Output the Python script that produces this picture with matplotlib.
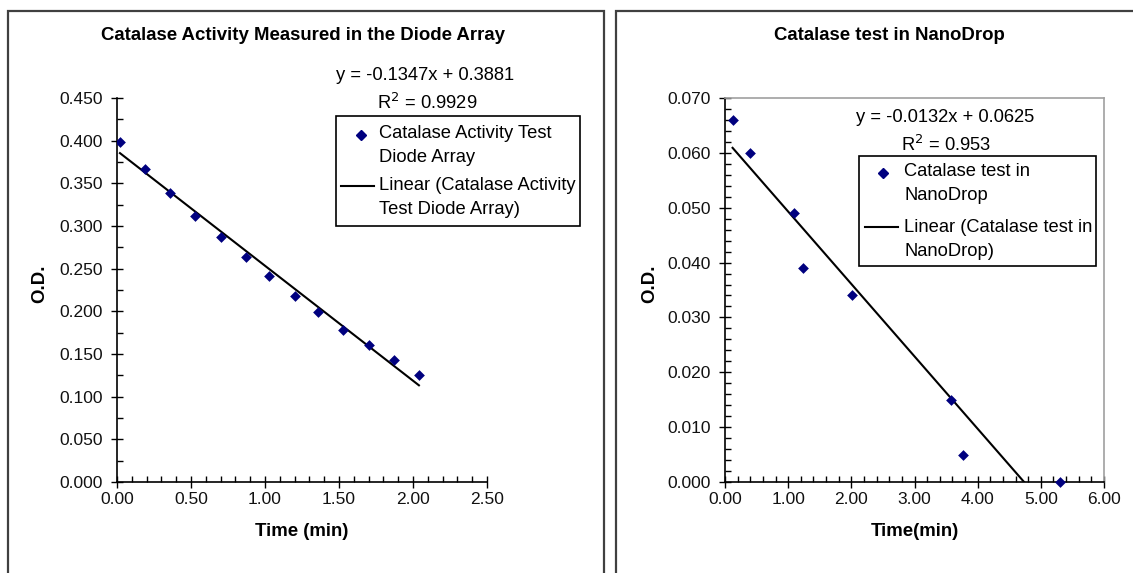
import matplotlib
matplotlib.use("Agg")
import matplotlib.pyplot as plt
from matplotlib.patches import Rectangle
from matplotlib.lines import Line2D
import numpy as np

# ---- data ----
da_time = [0.02, 0.19, 0.36, 0.53, 0.70, 0.87, 1.03, 1.20, 1.36, 1.53, 1.70, 1.87, 2.04]
da_od = [0.399, 0.367, 0.339, 0.312, 0.287, 0.264, 0.241, 0.218, 0.199, 0.178, 0.161, 0.143, 0.125]
da_slope, da_icpt, da_r2 = -0.1347, 0.3881, 0.9929

nd_time = [0.12, 0.40, 1.10, 1.24, 2.01, 3.57, 3.77, 5.30]
nd_od = [0.066, 0.060, 0.049, 0.039, 0.034, 0.015, 0.005, 0.000]
nd_slope, nd_icpt, nd_r2 = -0.0132, 0.0625, 0.953

da_yticks = [0.0, 0.05, 0.10, 0.15, 0.20, 0.25, 0.30, 0.35, 0.40, 0.45]
da_xticks = [0.0, 0.5, 1.0, 1.5, 2.0, 2.5]
nd_yticks = [0.0, 0.01, 0.02, 0.03, 0.04, 0.05, 0.06, 0.07]
nd_xticks = [0, 1, 2, 3, 4, 5, 6]

W, H = 1133, 573
plt.rcParams['font.family'] = ['Liberation Sans', 'DejaVu Sans']
fig = plt.figure(figsize=(W / 100, H / 100), dpi=100)

def fx(px):
    return px / W

def fy(py):
    return 1 - py / H

MARK = '#00007F'
BORDER = '#404040'

# panel borders
fig.patches.append(Rectangle((fx(7.5), fy(600)), fx(603.5) - fx(7.5), fy(10.5) - fy(600),
                             transform=fig.transFigure, fill=False, ec=BORDER, lw=1.6))
fig.patches.append(Rectangle((fx(615.5), fy(600)), fx(1180) - fx(615.5), fy(10.5) - fy(600),
                             transform=fig.transFigure, fill=False, ec=BORDER, lw=1.6, clip_on=False))

def make_axes(x0, x1, y0, y1):
    return fig.add_axes([fx(x0), fy(y1), fx(x1) - fx(x0), fy(y0) - fy(y1)])

TICKFS = 12.5
LEGFS = 13.2
TITLEFS = 13.4
LABFS = 13.4

def style(ax, xt, yt, xfmt, yfmt, xminor, yminor, frame):
    ax.set_xticks(xt)
    ax.set_yticks(yt)
    ax.set_xticklabels([xfmt.format(v) for v in xt], fontsize=TICKFS, color='#111111')
    ax.set_yticklabels([yfmt.format(v) for v in yt], fontsize=TICKFS, color='#111111')
    ax.set_xticks(xminor, minor=True)
    ax.set_yticks(yminor, minor=True)
    ax.tick_params(which='major', direction='inout', length=8, width=1)
    ax.tick_params(axis='y', which='major', pad=6)
    ax.tick_params(axis='x', which='major', pad=3.5)
    ax.tick_params(which='minor', direction='in', length=4, width=1)
    for s in ['left', 'bottom']:
        ax.spines[s].set_linewidth(1.2)
        ax.spines[s].set_color('black')
    for s in ['top', 'right']:
        if frame:
            ax.spines[s].set_color('#A0A0A0')
            ax.spines[s].set_linewidth(1.2)
        else:
            ax.spines[s].set_visible(False)

# ---- left chart ----
ax1 = make_axes(117, 487, 98, 482)
ax1.set_xlim(0, 2.5)
ax1.set_ylim(0, 0.45)
ax1.scatter(da_time, da_od, marker='D', s=30, color=MARK, zorder=3, linewidths=0)
xl = np.array([da_time[0], da_time[-1]])
ax1.plot(xl, da_slope * xl + da_icpt, color='black', lw=1.5, zorder=2)
style(ax1, da_xticks, da_yticks, '{:.2f}', '{:.3f}', np.arange(0, 2.51, 0.1),
      np.arange(0, 0.451, 0.025), False)
fig.text(fx(303), fy(36), 'Catalase Activity Measured in the Diode Array',
         ha='center', va='center', fontsize=TITLEFS, fontweight='bold')
fig.text(fx(302), fy(532), 'Time (min)', ha='center', va='center', fontsize=LABFS, fontweight='bold')
fig.text(fx(40), fy(284), 'O.D.', ha='center', va='center', rotation=90, fontsize=LABFS, fontweight='bold')
fig.text(fx(425), fy(75), 'y = -0.1347x + 0.3881', ha='center', va='center', fontsize=LEGFS)
fig.text(fx(427), fy(103), 'R$^2$ = {:.4f}'.format(da_r2), ha='center', va='center', fontsize=LEGFS)
fig.patches.append(Rectangle((fx(336), fy(226)), fx(580) - fx(336), fy(116) - fy(226),
                             transform=fig.transFigure, fill=True, fc='white', ec='black', lw=1.2))
fig.lines.append(Line2D([fx(361)], [fy(135)], marker='D', ms=5.5, color=MARK, ls='none',
                        transform=fig.transFigure))
fig.lines.append(Line2D([fx(341), fx(374)], [fy(186), fy(186)], color='black', lw=1.5,
                        transform=fig.transFigure))
for txt, yy in [('Catalase Activity Test', 133), ('Diode Array', 157),
                ('Linear (Catalase Activity', 186), ('Test Diode Array)', 209)]:
    fig.text(fx(379), fy(yy), txt, ha='left', va='center', fontsize=LEGFS)

# ---- right chart ----
ax2 = make_axes(725, 1104, 98, 482)
ax2.set_xlim(0, 6)
ax2.set_ylim(0, 0.07)
ax2.scatter(nd_time, nd_od, marker='D', s=30, color=MARK, zorder=3, linewidths=0, clip_on=False)
x_end = -nd_icpt / nd_slope
xr = np.array([nd_time[0], x_end])
ax2.plot(xr, nd_slope * xr + nd_icpt, color='black', lw=1.5, zorder=2)
style(ax2, nd_xticks, nd_yticks, '{:.2f}', '{:.3f}', np.arange(0, 6.01, 0.2),
      np.arange(0, 0.0701, 0.002), True)
fig.text(fx(889), fy(35), 'Catalase test in NanoDrop',
         ha='center', va='center', fontsize=TITLEFS, fontweight='bold')
fig.text(fx(915), fy(532), 'Time(min)', ha='center', va='center', fontsize=LABFS, fontweight='bold')
fig.text(fx(650), fy(284), 'O.D.', ha='center', va='center', rotation=90, fontsize=LABFS, fontweight='bold')
fig.text(fx(945), fy(118), 'y = -0.0132x + 0.0625', ha='center', va='center', fontsize=LEGFS)
fig.text(fx(946), fy(145), 'R$^2$ = {:.3f}'.format(nd_r2), ha='center', va='center', fontsize=LEGFS)
fig.patches.append(Rectangle((fx(859), fy(266)), fx(1096) - fx(859), fy(156) - fy(266),
                             transform=fig.transFigure, fill=True, fc='white', ec='black', lw=1.2))
fig.lines.append(Line2D([fx(883)], [fy(173)], marker='D', ms=5.5, color=MARK, ls='none',
                        transform=fig.transFigure))
fig.lines.append(Line2D([fx(865), fx(898)], [fy(227), fy(227)], color='black', lw=1.5,
                        transform=fig.transFigure))
for txt, yy in [('Catalase test in', 171), ('NanoDrop', 195),
                ('Linear (Catalase test in', 227), ('NanoDrop)', 251)]:
    fig.text(fx(904), fy(yy), txt, ha='left', va='center', fontsize=LEGFS)

fig.savefig('out.png', dpi=100)
